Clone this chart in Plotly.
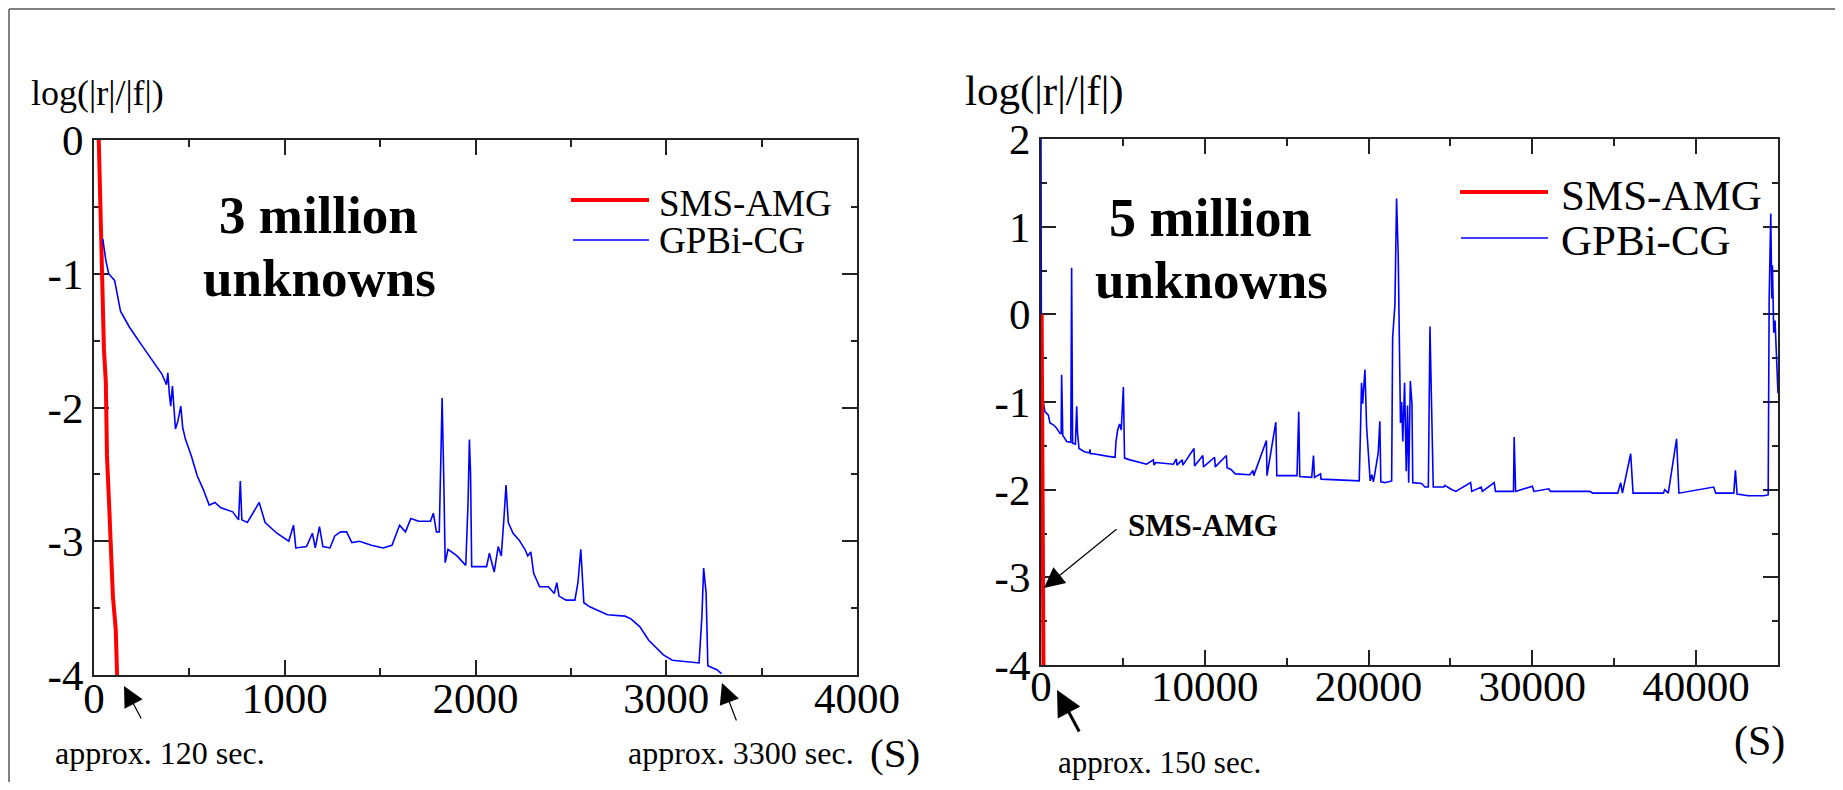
import plotly.graph_objects as go

# ---------------- data ----------------
# Left panel: 3 million unknowns
sms3_t = [25, 30, 35, 38, 45, 50, 52, 62, 68, 80, 87, 99, 114, 121]
sms3_r = [0, -0.3, -0.58, -0.62, -0.95, -1.2, -1.56, -1.81, -2.36, -2.75, -3.0, -3.41, -3.66, -4.0]

gpb3_t = [46, 62, 77, 108, 139, 186, 248, 263, 309, 356, 380, 387, 395, 402, 411, 427, 440, 455, 465,
          480, 510, 541, 572, 604, 634, 665, 727, 758, 767, 775, 804, 866, 897, 959, 1021, 1046, 1058,
          1114, 1145, 1160, 1182, 1200, 1237, 1262, 1293, 1324, 1352, 1392, 1454, 1516, 1562, 1602,
          1633, 1661, 1702, 1764, 1779, 1795, 1810, 1819, 1825, 1834, 1841, 1856, 1903, 1949, 1961,
          1968, 1974, 1980, 2058, 2073, 2098, 2119, 2135, 2150, 2160, 2172, 2197, 2228, 2259, 2274,
          2290, 2305, 2336, 2382, 2413, 2426, 2438, 2475, 2521, 2537, 2552, 2568, 2599, 2692, 2784,
          2815, 2862, 2908, 2955, 2985, 3032, 3110, 3172, 3187, 3196, 3209, 3218, 3265, 3290]
gpb3_r = [-0.74, -0.9, -1.0, -1.05, -1.28, -1.4, -1.53, -1.56, -1.66, -1.75, -1.83, -1.74, -1.9, -1.99,
          -1.84, -2.16, -2.1, -1.99, -2.15, -2.24, -2.36, -2.51, -2.61, -2.73, -2.71, -2.75, -2.78,
          -2.84, -2.55, -2.84, -2.86, -2.71, -2.86, -2.94, -3.0, -2.88, -3.05, -3.04, -2.94, -3.05,
          -2.89, -3.04, -3.05, -2.96, -2.93, -2.93, -3.01, -3.0, -3.03, -3.05, -3.03, -2.88, -2.93,
          -2.83, -2.85, -2.85, -2.79, -2.93, -2.93, -2.41, -1.93, -2.56, -3.16, -3.06, -3.11, -3.18,
          -2.71, -2.24, -2.49, -3.19, -3.19, -3.09, -3.23, -3.04, -3.11, -2.81, -2.58, -2.86, -2.94,
          -2.99, -3.06, -3.11, -3.08, -3.24, -3.34, -3.34, -3.39, -3.31, -3.41, -3.44, -3.44, -3.31,
          -3.06, -3.46, -3.49, -3.55, -3.56, -3.58, -3.64, -3.74, -3.81, -3.85, -3.89, -3.9, -3.91,
          -3.56, -3.2, -3.39, -3.93, -3.96, -3.99]

# Right panel: 5 million unknowns
sms5_t = [40, 50, 70, 90, 110, 130, 150]
sms5_r = [0.0, -0.3, -1.0, -2.0, -2.6, -3.2, -4.0]

gpb5_t = [0, 30, 140, 240, 450, 550, 750, 960, 1160, 1230, 1260, 1290, 1330, 1570, 1820, 1870, 1900,
          1930, 2100, 2180, 2230, 2320, 2500, 2690, 2960, 2990, 3020, 3190, 4110, 4520, 4580, 4680,
          4800, 4900, 5030, 5100, 5430, 6450, 6860, 6900, 7007, 8085, 8264, 8300, 8624, 8660, 9342,
          9380, 9881, 9920, 10600, 10640, 11319, 11360, 11600, 11858, 12756, 12940, 12990, 13762,
          13800, 14337, 14400, 15631, 15738, 15800, 16529, 16637, 16700, 17068, 17100, 18865, 19404,
          19430, 19500, 19570, 19640, 19780, 19880, 19980, 20100, 20200, 20300, 20590, 20690, 20750,
          21000, 21410, 21470, 21610, 21710, 21810, 21870, 21950, 22020, 22090, 22200, 22300, 22380,
          22450, 22550, 22650, 22700, 23240, 23440, 23650, 23700, 23750, 23850, 23950, 24600, 24650,
          25100, 25332, 26231, 26300, 26877, 26950, 27668, 27750, 28850, 28890, 28980, 30003, 30100,
          31000, 31100, 33500, 33700, 35214, 35393, 35500, 36004, 36150, 38000, 38089, 38300, 38807,
          38950, 41071, 41200, 42300, 42400, 42500, 43180, 44100, 44400, 44460, 44560, 44620, 44660,
          44740, 44820, 44900, 45000]
gpb5_r = [2.0, -0.98, -1.0, -1.11, -1.15, -1.24, -1.26, -1.3, -1.36, -1.36, -0.69, -1.05, -1.38, -1.45,
          -1.46, 0.53, -0.39, -1.47, -1.48, -1.05, -1.35, -1.53, -1.55, -1.57, -1.58, -1.54, -1.59,
          -1.59, -1.62, -1.63, -1.45, -1.32, -1.25, -1.32, -0.83, -1.64, -1.66, -1.71, -1.66, -1.72,
          -1.69, -1.71, -1.65, -1.72, -1.66, -1.72, -1.53, -1.73, -1.61, -1.74, -1.63, -1.74, -1.61,
          -1.75, -1.77, -1.82, -1.83, -1.78, -1.84, -1.44, -1.84, -1.23, -1.84, -1.84, -1.11, -1.85,
          -1.86, -1.61, -1.86, -1.82, -1.88, -1.89, -1.9, -1.9, -1.38, -0.78, -1.02, -0.63, -1.28,
          -1.57, -1.9, -1.83, -1.91, -1.58, -1.22, -1.91, -1.92, -1.9, -0.27, 0.11, 1.32, 0.68, -0.2,
          -1.24, -1.0, -1.45, -0.78, -1.79, -1.04, -1.92, -0.76, -1.02, -1.92, -1.93, -1.97, -1.97,
          -1.06, -0.14, -1.06, -1.97, -1.97, -1.95, -2.0, -2.02, -1.92, -2.02, -1.97, -2.02, -1.92,
          -2.02, -2.02, -1.4, -2.02, -1.96, -2.02, -1.99, -2.02, -2.02, -2.04, -2.04, -1.92, -2.04,
          -1.59, -2.04, -2.04, -2.0, -2.04, -1.42, -2.04, -1.97, -2.04, -2.04, -1.78, -2.05, -2.07,
          -2.07, -2.06, 0.18, 1.15, 0.18, 0.56, -0.21, -0.07, -0.49, -0.9]

x3_ticks = [0, 1000, 2000, 3000, 4000]
x3_labels = ["0", "1000", "2000", "3000", "4000"]
y3_ticks = [0, -1, -2, -3, -4]
y3_labels = ["0", "-1", "-2", "-3", "-4"]
x5_ticks = [0, 10000, 20000, 30000, 40000]
x5_labels = ["0", "10000", "20000", "30000", "40000"]
y5_ticks = [2, 1, 0, -1, -2, -3, -4]
y5_labels = ["2", "1", "0", "-1", "-2", "-3", "-4"]

series_names = ["SMS-AMG", "GPBi-CG"]

# ---------------- figure ----------------
PAGE_W, PAGE_H = 1843, 790
OFF = 8                      # default body margin of the page
W, H = PAGE_W - 2 * OFF, PAGE_H - 2 * OFF
SERIF = "Liberation Serif, Times New Roman, serif"
RED = "#ff0000"
BLUE = "#0000ff"
AX = "#222222"


def px(x):
    return (x - OFF) / W


def py(y):
    return 1 - (y - OFF) / H


fig = go.Figure()
fig.add_trace(go.Scatter(x=sms3_t, y=sms3_r, mode="lines", line=dict(color=RED, width=4),
                         name=series_names[0], showlegend=False, xaxis="x", yaxis="y"))
fig.add_trace(go.Scatter(x=gpb3_t, y=gpb3_r, mode="lines", line=dict(color=BLUE, width=1.6),
                         name=series_names[1], showlegend=False, xaxis="x", yaxis="y"))
fig.add_trace(go.Scatter(x=gpb5_t, y=gpb5_r, mode="lines", line=dict(color=BLUE, width=1.6),
                         name=series_names[1], showlegend=False, xaxis="x2", yaxis="y2"))
fig.add_trace(go.Scatter(x=sms5_t, y=sms5_r, mode="lines", line=dict(color=RED, width=4),
                         name=series_names[0], showlegend=False, xaxis="x2", yaxis="y2"))

axis_common = dict(showline=True, linecolor=AX, linewidth=2, mirror="allticks",
                   ticks="inside", tickcolor=AX, tickwidth=2, ticklen=15,
                   showgrid=False, zeroline=False, layer="below traces", automargin=False,
                   tickfont=dict(family=SERIF, size=43, color="#000000"))

fig.update_layout(
    template="none",
    width=W, height=H, margin=dict(l=0, r=0, t=0, b=0, pad=0, autoexpand=False), autosize=False,
    paper_bgcolor="white", plot_bgcolor="white", showlegend=False,
    xaxis=dict(domain=[px(94), px(857)], range=[0, 4000], tickvals=x3_ticks, ticktext=x3_labels,
               minor=dict(ticks="inside", ticklen=7, tickwidth=2, tickcolor=AX, dtick=500),
               ticklabelstandoff=-16, anchor="y", **axis_common),
    yaxis=dict(domain=[py(675), py(140)], range=[-4, 0], tickvals=y3_ticks, ticktext=y3_labels,
               minor=dict(ticks="inside", ticklen=6, tickwidth=2, tickcolor=AX, dtick=0.5),
               anchor="x", **axis_common),
    xaxis2=dict(domain=[px(1041), px(1778)], range=[0, 45000], tickvals=x5_ticks, ticktext=x5_labels,
                minor=dict(ticks="inside", ticklen=7, tickwidth=2, tickcolor=AX, dtick=5000),
                ticklabelstandoff=-18, anchor="y2", **axis_common),
    yaxis2=dict(domain=[py(665), py(139)], range=[-4, 2], tickvals=y5_ticks, ticktext=y5_labels,
                minor=dict(ticks="inside", ticklen=6, tickwidth=2, tickcolor=AX, dtick=0.5),
                anchor="x2", **axis_common),
)

shapes = [
    # outer frame (top and left edges)
    dict(type="line", xref="paper", yref="paper", x0=px(9), x1=px(1843), y0=py(9), y1=py(9),
         line=dict(color="#808080", width=2)),
    dict(type="line", xref="paper", yref="paper", x0=px(9), x1=px(9), y0=py(9), y1=py(790),
         line=dict(color="#808080", width=2)),
    # legend samples
    dict(type="line", xref="paper", yref="paper", x0=px(571), x1=px(649), y0=py(200), y1=py(200),
         line=dict(color=RED, width=4)),
    dict(type="line", xref="paper", yref="paper", x0=px(573), x1=px(649), y0=py(240), y1=py(240),
         line=dict(color=BLUE, width=1.6)),
    dict(type="line", xref="paper", yref="paper", x0=px(1460), x1=px(1548), y0=py(192), y1=py(192),
         line=dict(color=RED, width=4)),
    dict(type="line", xref="paper", yref="paper", x0=px(1461), x1=px(1548), y0=py(238), y1=py(238),
         line=dict(color=BLUE, width=1.6)),
]
fig.update_layout(shapes=shapes)


def text(x, y, s, size, bold=False, xanchor="center"):
    if bold:
        s = "<b>" + s + "</b>"
    return dict(xref="paper", yref="paper", x=px(x), y=py(y), text=s, showarrow=False,
                xanchor=xanchor, yanchor="middle",
                font=dict(family=SERIF, size=size, color="#000000"))


def arrow(tip_x, tip_y, tail_x, tail_y, width=1.2, size=3.4):
    return dict(xref="paper", yref="paper", x=px(tip_x), y=py(tip_y), text="",
                showarrow=True, arrowhead=2, arrowsize=size, arrowwidth=width,
                arrowcolor="#000000", ax=tail_x - tip_x, ay=tail_y - tip_y, standoff=0)


annotations = [
    text(97, 93, "log(|r|/|f|)", 36),
    text(1044, 91, "log(|r|/|f|)", 43),
    text(318, 215, "3 million", 53, bold=True),
    text(319, 278, "unknowns", 53, bold=True),
    text(1210, 218, "5 million", 54, bold=True),
    text(1211, 280, "unknowns", 53, bold=True),
    text(657, 203, series_names[0], 37, xanchor="left"),
    text(657, 241, series_names[1], 37, xanchor="left"),
    text(1559, 195, series_names[0], 43, xanchor="left"),
    text(1559, 240, series_names[1], 43, xanchor="left"),
    text(53, 753, "approx. 120 sec.", 32, xanchor="left"),
    text(626, 753, "approx. 3300 sec.", 32, xanchor="left"),
    text(895, 753, "(S)", 41),
    text(1759, 741, "(S)", 42),
    text(1056, 762, "approx. 150 sec.", 31, xanchor="left"),
    text(1126, 525, "SMS-AMG", 31, bold=True, xanchor="left"),
    arrow(124, 686, 142, 720),
    arrow(722, 683, 737, 722),
    arrow(1044, 588, 1118, 528),
    arrow(1057, 690, 1080, 733, width=3, size=1.7),
]
fig.update_layout(annotations=annotations)

fig.write_html("out.html", config={"responsive": False})
